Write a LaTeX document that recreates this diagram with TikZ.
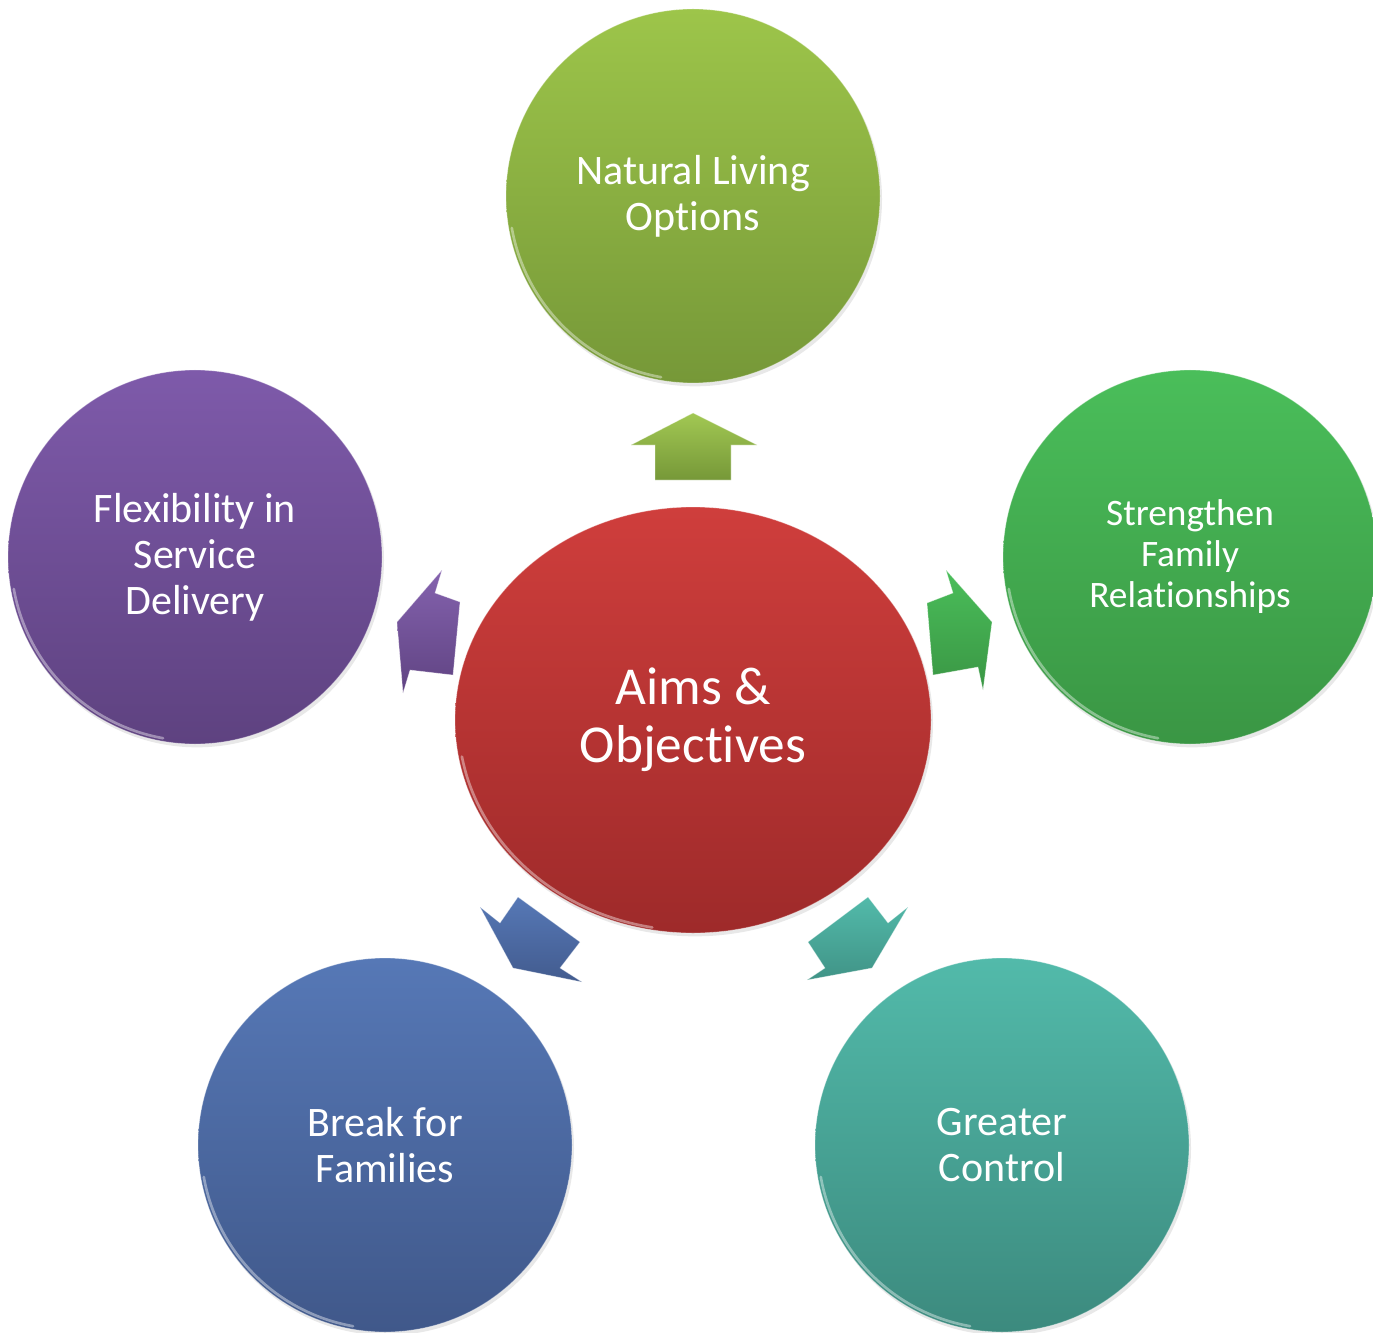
\documentclass[tikz,border=0pt]{standalone}
\usepackage{fontspec}
\setmainfont{Carlito}[Ligatures=NoCommon]
\usetikzlibrary{shapes.geometric,shadows}
\definecolor{ntop}{RGB}{157,197,74}\definecolor{nbot}{RGB}{118,152,56}
\definecolor{stop}{RGB}{74,190,90}\definecolor{sbot}{RGB}{58,150,68}
\definecolor{ftop}{RGB}{126,90,170}\definecolor{fbot}{RGB}{94,66,128}
\definecolor{btop}{RGB}{86,120,182}\definecolor{bbot}{RGB}{64,88,138}
\definecolor{gtop}{RGB}{82,186,170}\definecolor{gbot}{RGB}{60,138,126}
\definecolor{atop}{RGB}{207,62,60}\definecolor{abot}{RGB}{158,42,42}
\begin{document}
\begin{tikzpicture}[x=0.75pt,y=-0.75pt,
  bubble/.style={circle, minimum size=280.5pt, inner sep=0pt, text=white, align=center,
    draw=white, draw opacity=0.35, line width=0.6pt,
    drop shadow={opacity=0.18, shadow xshift=1.5pt, shadow yshift=-2.5pt}},
  midtext/.style={font=\fontsize{31.5}{34.5}\selectfont},
  smalltext/.style={font=\fontsize{28}{30.75}\selectfont},
  bigtext/.style={font=\fontsize{40}{43.5}\selectfont},
  rim/.style={white, opacity=0.4, line width=2pt, line cap=round},
  blockarrow/.style={draw=white, draw opacity=0.4, line width=0.5pt, line join=miter}]
\useasboundingbox (0,0) rectangle (1373,1333);

% centre
\node[ellipse, minimum width=357pt, minimum height=319.5pt, inner sep=0pt, text=white, align=center,
  top color=atop, bottom color=abot, draw=white, draw opacity=0.35, line width=0.6pt,
  drop shadow={opacity=0.18, shadow xshift=1.5pt, shadow yshift=-2.5pt}, bigtext]
  (aims) at (693,720) {Aims \&\\Objectives};

% outer circles
\node[bubble, top color=ntop, bottom color=nbot, midtext] (nat) at (693,196) {Natural Living\\Options};
\node[bubble, top color=stop, bottom color=sbot, smalltext] (str) at (1190,557) {Strengthen\\Family\\Relationships};
\node[bubble, top color=ftop, bottom color=fbot, midtext] (flex) at (195,557) {Flexibility in\\Service\\Delivery};
\node[bubble, top color=btop, bottom color=bbot, midtext] (brk) at (385,1145) {Break for\\Families};
\node[bubble, top color=gtop, bottom color=gbot, midtext] (grt) at (1002,1145) {Greater\\Control};

% rim highlights
\foreach \n in {nat,str,flex,brk,grt}{
  \draw[rim] ([shift={(190:138pt)}]\n.center) arc[start angle=190, end angle=260, radius=138pt];
}
\draw[rim] ([shift={(190:176pt and 158pt)}]aims.center) arc[start angle=190, end angle=260, x radius=176pt, y radius=158pt];

% arrows
\shade[blockarrow, top color=ntop!95!white, bottom color=nbot]
  (655,480) -- (655,445) -- (631,445) -- (693,413) -- (757,445) -- (731,445) -- (731,480) -- cycle;
\shade[blockarrow, top color=ftop!95!white, bottom color=fbot!95!ftop]
  (442,570) -- (435,593) -- (460,602) -- (453,675) -- (410,670) -- (403,693) -- (397,622) -- cycle;
\shade[blockarrow, top color=stop, bottom color=sbot]
  (946,570) -- (953,593) -- (927,603) -- (933,675) -- (978,667) -- (983,690) -- (992,622) -- cycle;
\shade[blockarrow, top color=btop, bottom color=bbot!90!btop]
  (480,907) -- (500,923) -- (518,897) -- (580,942) -- (560,968) -- (582,982) -- (513,968) -- cycle;
\shade[blockarrow, top color=gtop, bottom color=gbot!80!gtop]
  (868,897) -- (888,923) -- (908,907) -- (872,968) -- (807,980) -- (825,968) -- (808,942) -- cycle;
\end{tikzpicture}
\end{document}
